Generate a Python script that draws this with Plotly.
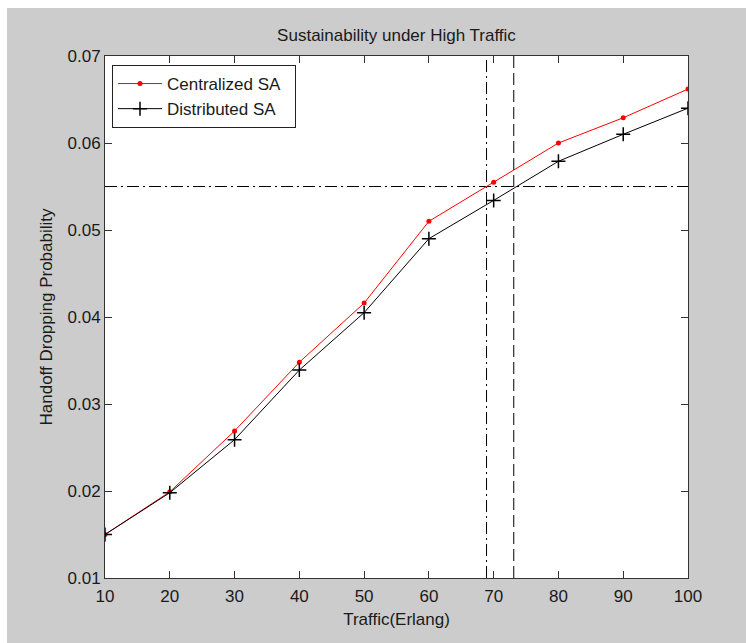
import plotly.graph_objects as go

# ---- data ----
traffic = [10, 20, 30, 40, 50, 60, 70, 80, 90, 100]
centralized = [0.0150, 0.0199, 0.0269, 0.0348, 0.0416, 0.0510, 0.0555, 0.0600, 0.0629, 0.0662]
distributed = [0.0150, 0.0198, 0.0259, 0.0339, 0.0405, 0.0490, 0.0534, 0.0579, 0.0610, 0.0640]
threshold = [0.055]
crossing_x = [68.9, 73.1]
x_ticks = [10, 20, 30, 40, 50, 60, 70, 80, 90, 100]
y_ticks = [0.01, 0.02, 0.03, 0.04, 0.05, 0.06, 0.07]
y_ticklabels = ["0.01", "0.02", "0.03", "0.04", "0.05", "0.06", "0.07"]

FONT = "Liberation Sans, Arial, sans-serif"
TXT = "#1a1a1a"
GRAY = "#cccccc"
FS = 17

fig = go.Figure()

# reference lines
fig.add_trace(go.Scatter(x=[x_ticks[0], x_ticks[-1]], y=[threshold[0]] * 2, mode="lines",
                         line=dict(color="black", width=1, dash="12px,4px,2px,4px"),
                         showlegend=False, hoverinfo="skip"))
fig.add_trace(go.Scatter(x=[crossing_x[0]] * 2, y=[y_ticks[0], y_ticks[-1]], mode="lines",
                         line=dict(color="black", width=1, dash="12px,4px,2px,4px"),
                         showlegend=False, hoverinfo="skip"))
fig.add_trace(go.Scatter(x=[crossing_x[1]] * 2, y=[y_ticks[0], y_ticks[-1]], mode="lines",
                         line=dict(color="black", width=1, dash="12px,5px"),
                         showlegend=False, hoverinfo="skip"))

fig.add_trace(go.Scatter(x=traffic, y=centralized, name="Centralized SA\u00a0\u00a0", mode="lines+markers",
                         line=dict(color="#ff0000", width=1),
                         marker=dict(symbol="circle", size=5, color="#ff0000")))
fig.add_trace(go.Scatter(x=traffic, y=distributed, name="Distributed SA", mode="lines+markers",
                         line=dict(color="black", width=1),
                         marker=dict(symbol="cross-thin", size=10, color="black",
                                     line=dict(color="black", width=1.5))))

L, R, T, B = 105, 58, 56, 65
W, H = 746, 643
pw, ph = W - L - R, H - T - B

def px_x(p):
    return (p - L) / pw

def px_y(p):
    return (H - B - p) / ph

axis_common = dict(showline=True, linecolor="#333333", linewidth=1, mirror="ticks",
                   ticks="inside", ticklen=7, tickcolor="#333333", tickwidth=1,
                   showgrid=False, zeroline=False,
                   tickfont=dict(family=FONT, size=FS, color=TXT))

fig.update_layout(
    width=W, height=H,
    margin=dict(l=L, r=R, t=T, b=B, pad=0),
    paper_bgcolor=GRAY, plot_bgcolor="white",
    font=dict(family=FONT, size=FS, color=TXT),
    title=dict(text="Sustainability under High Traffic", x=px_x((L + W - R) / 2), xref="paper",
               y=1 - 35 / H, yref="container", xanchor="center", yanchor="middle",
               font=dict(family=FONT, size=FS, color=TXT)),
    xaxis=dict(range=[10, 100], tickvals=x_ticks, ticklabelstandoff=3,
               title=dict(text="Traffic(Erlang)", standoff=7,
                          font=dict(family=FONT, size=FS, color=TXT)),
               **axis_common),
    yaxis=dict(range=[0.01, 0.07], tickvals=y_ticks, ticktext=y_ticklabels,
               title=dict(text="Handoff Dropping Probability", standoff=10,
                          font=dict(family=FONT, size=FS, color=TXT)),
               **axis_common),
    legend=dict(x=px_x(112), y=px_y(65), xanchor="left", yanchor="top",
                bgcolor="white", bordercolor="#222222", borderwidth=1,
                itemwidth=44, tracegroupgap=0,
                font=dict(family=FONT, size=FS, color=TXT)),
    showlegend=True,
    shapes=[
        dict(type="rect", xref="paper", yref="paper", x0=px_x(0), x1=px_x(W), y0=px_y(8), y1=px_y(-2),
             fillcolor="white", line=dict(width=0), layer="above"),
        dict(type="rect", xref="paper", yref="paper", x0=px_x(-2), x1=px_x(7), y0=px_y(H + 2), y1=px_y(-2),
             fillcolor="white", line=dict(width=0), layer="above"),
    ],
)

fig.write_html("out.html")
